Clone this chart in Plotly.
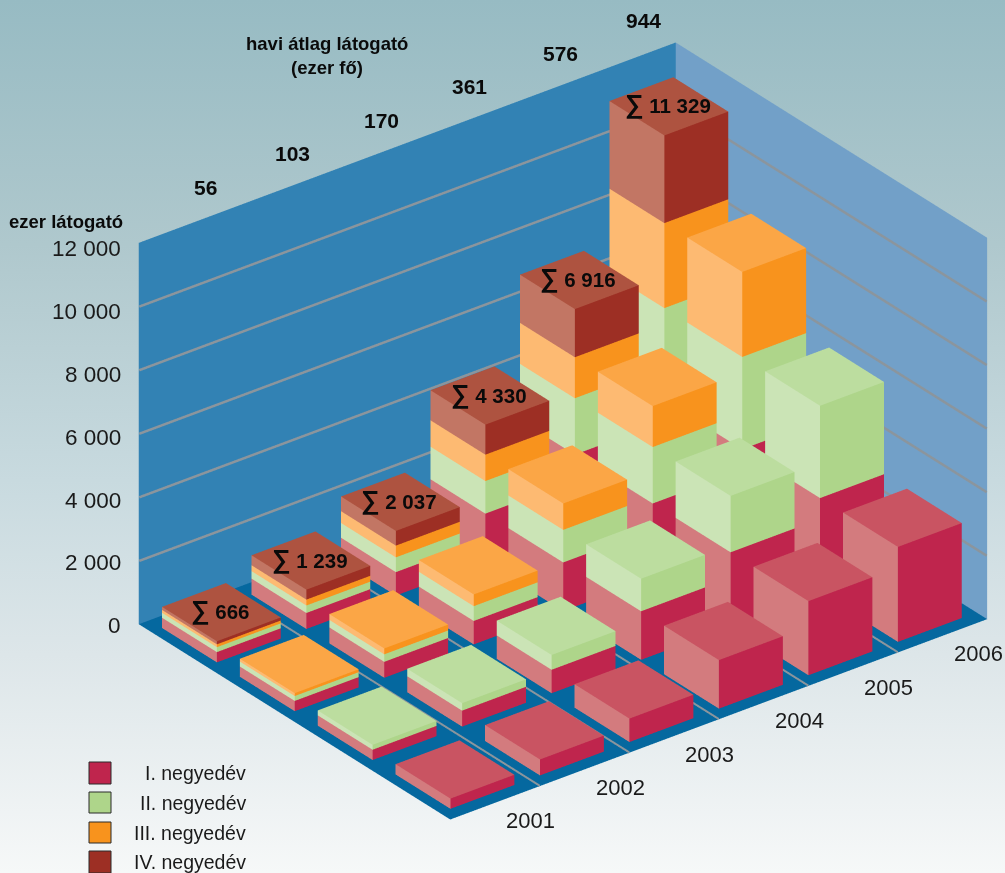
import base64
import plotly.graph_objects as go

years = ["2001", "2002", "2003", "2004", "2005", "2006"]
q1 = [325, 505, 740, 1530, 2335, 2990]
q2 = [155, 236, 465, 1025, 1775, 2905]
q3 = [90, 185, 370, 830, 1290, 2675]
q4 = [96, 313, 462, 945, 1516, 2759]
totals = [666, 1239, 2037, 4330, 6916, 11329]
monthly = [56, 103, 170, 361, 576, 944]
quarter_names = ["I. negyedév", "II. negyedév", "III. negyedév", "IV. negyedév"]
z_ticks = [0, 2000, 4000, 6000, 8000, 10000, 12000]

top_cols = ["#c95462", "#bcdd9f", "#fba646", "#ae5340"]
left_cols = ["#d37b7e", "#cbe4b6", "#fdba72", "#c27664"]
right_cols = ["#bf254d", "#aed58a", "#f8931d", "#9d2f24"]
swatch_cols = ["#bf254d", "#aed58a", "#f8931d", "#9d2f24"]

series = [q1, q2, q3, q4]
X0, X1 = 0.12, 0.834
Y0, Y1 = 0.135, 0.84
EYE_LEN = 2.0
SCALE = 1.183
DIR = (-0.5346, -0.693, 0.4837)
W, H = 1005, 873
GRID = "#8b959d"


def fmt(v):
    return f"{v:,}".replace(",", " ")


def add_box(m, yi, row, z0, z1, q, top):
    x0, x1 = yi + X0, yi + X1
    y0, y1 = row + Y0, row + Y1
    b = len(m["x"])
    corners = [(x0, y0, z0), (x1, y0, z0), (x1, y1, z0), (x0, y1, z0),
               (x0, y0, z1), (x1, y0, z1), (x1, y1, z1), (x0, y1, z1)]
    for c in corners:
        m["x"].append(c[0]); m["y"].append(c[1]); m["z"].append(c[2])
    faces = [((0, 1, 5), right_cols[q]), ((0, 5, 4), right_cols[q]),
             ((0, 4, 7), left_cols[q]), ((0, 7, 3), left_cols[q])]
    if top:
        faces += [((4, 5, 6), top_cols[q]), ((4, 6, 7), top_cols[q])]
    for (a, c, d), col in faces:
        m["i"].append(b + a); m["j"].append(b + c); m["k"].append(b + d)
        m["fc"].append(col)


m = dict(x=[], y=[], z=[], i=[], j=[], k=[], fc=[])
for yi in range(len(years)):
    for row in range(4):           # row 0 = front (Q1 only), row 3 = back (all four)
        z = 0
        for q in range(row + 1):
            v = series[q][yi]
            add_box(m, yi, row, z, z + v, q, q == row)
            z += v

traces = [go.Mesh3d(x=m["x"], y=m["y"], z=m["z"], i=m["i"], j=m["j"], k=m["k"],
                    facecolor=m["fc"], flatshading=True, hoverinfo="skip",
                    lighting=dict(ambient=1, diffuse=0, specular=0, fresnel=0, roughness=1))]
line = dict(color=GRID, width=5)
for b in range(1, len(years)):
    traces.append(go.Scatter3d(x=[b, b], y=[0, 4], z=[2, 2], mode="lines", line=line,
                               hoverinfo="skip", showlegend=False))
for t in z_ticks[1:-1]:
    traces.append(go.Scatter3d(x=[0, 5.995, 5.995], y=[3.995, 3.995, 0], z=[t, t, t], mode="lines", line=line,
                               hoverinfo="skip", showlegend=False))

BOLD = "Liberation Sans"
REG = "Liberation Sans"
annos3d = []
mon_dx = [22, 20, 19, 18, 19, 13]
tick_dy = [-1, -2, -3, -4, -5, -5, -6]
for i, y in enumerate(years):
    annos3d.append(dict(x=i + 0.5, y=0, z=0, text=y, showarrow=False, xshift=36, yshift=-18,
                        font=dict(family=REG, size=22, color="#1a1a1a")))
    annos3d.append(dict(x=i + 0.5, y=4, z=12000, text=f"<b>{monthly[i]}</b>", showarrow=False,
                        xshift=mon_dx[i], yshift=39,
                        font=dict(family=BOLD, size=21, color="#0a0a0a")))
    annos3d.append(dict(x=i + (X0 + X1) / 2, y=3 + (Y0 + Y1) / 2, z=totals[i],
                        text=f'<b><span style="font-size:26px">∑</span> {fmt(totals[i])}</b>', xshift=-1, yshift=2,
                        showarrow=False, font=dict(family=BOLD, size=20.5, color="#0a0a0a")))
for t, dy in zip(z_ticks, tick_dy):
    annos3d.append(dict(x=0, y=4, z=t, text=fmt(t), showarrow=False, xanchor="right", xshift=-15, yshift=dy,
                        font=dict(family=REG, size=22.5, color="#1a1a1a")))


def axis(**kw):
    d = dict(title="", showgrid=False, zeroline=False, showline=False, showticklabels=False,
             showspikes=False, ticks="", showbackground=True)
    d.update(kw)
    return d


svg = ("<svg xmlns='http://www.w3.org/2000/svg' width='1005' height='873'>"
       "<defs><linearGradient id='g' x1='0' y1='0' x2='0' y2='1'>"
       "<stop offset='0' stop-color='#97bbc3'/><stop offset='0.28' stop-color='#afc8cd'/>"
       "<stop offset='0.55' stop-color='#c8dadf'/><stop offset='0.75' stop-color='#dde6e9'/>"
       "<stop offset='1' stop-color='#f6f8f8'/></linearGradient></defs>"
       "<rect width='1005' height='873' fill='url(#g)'/></svg>")
bg = "data:image/svg+xml;base64," + base64.b64encode(svg.encode()).decode()

shapes = []
annos = []
sw_y = [(762, 784), (792, 813), (822, 843), (851, 873)]
for n, name in enumerate(quarter_names):
    y0, y1 = sw_y[n]
    shapes.append(dict(type="rect", xref="paper", yref="paper", x0=89 / W, x1=111 / W,
                       y0=1 - y1 / H, y1=1 - y0 / H, fillcolor=swatch_cols[n], line=dict(color="#2a2a2a", width=1)))
    annos.append(dict(xref="paper", yref="paper", x=248 / W, y=1 - ((y0 + y1) / 2) / H, text=name, showarrow=False,
                      xanchor="right", yanchor="middle", font=dict(family=REG, size=19.5, color="#1a1a1a")))
annos.append(dict(xref="paper", yref="paper", x=327 / W, y=1 - 43 / H, text="<b>havi átlag látogató</b>",
                  showarrow=False, xanchor="center", yanchor="middle",
                  font=dict(family=BOLD, size=18.5, color="#0a0a0a")))
annos.append(dict(xref="paper", yref="paper", x=327 / W, y=1 - 68 / H, text="<b>(ezer fő)</b>",
                  showarrow=False, xanchor="center", yanchor="middle",
                  font=dict(family=BOLD, size=18.5, color="#0a0a0a")))
annos.append(dict(xref="paper", yref="paper", x=125 / W, y=1 - 221 / H, text="<b>ezer látogató</b>",
                  showarrow=False, xanchor="right", yanchor="middle", font=dict(family=BOLD, size=18.5, color="#0a0a0a")))

fig = go.Figure(traces)
fig.update_layout(
    width=W, height=H, margin=dict(l=0, r=0, t=0, b=0), showlegend=False,
    paper_bgcolor="rgba(0,0,0,0)", plot_bgcolor="rgba(0,0,0,0)",
    images=[dict(source=bg, xref="paper", yref="paper", x=0, y=1, sizex=1, sizey=1,
                 xanchor="left", yanchor="top", sizing="stretch", layer="below")],
    shapes=shapes, annotations=annos,
    scene=dict(
        domain=dict(x=[0.12, 1], y=[0.0126, 1]),
        bgcolor="rgba(0,0,0,0)",
        aspectmode="manual", aspectratio=dict(x=SCALE * 677 / 509, y=SCALE, z=SCALE * 435 / 509),
        camera=dict(projection=dict(type="orthographic"),
                    eye=dict(x=DIR[0] * EYE_LEN, y=DIR[1] * EYE_LEN, z=DIR[2] * EYE_LEN),
                    center=dict(x=0, y=0, z=0), up=dict(x=0, y=0, z=1)),
        xaxis=axis(range=[0, 6], backgroundcolor="#72a0c8"),
        yaxis=axis(range=[0, 4], backgroundcolor="#3282b4"),
        zaxis=axis(range=[0, 12000], backgroundcolor="#05689f"),
        annotations=annos3d,
    ),
)
fig.write_html("out.html", config=dict(displayModeBar=False),
               post_script="document.body.style.margin='0';document.body.style.overflow='hidden';")
